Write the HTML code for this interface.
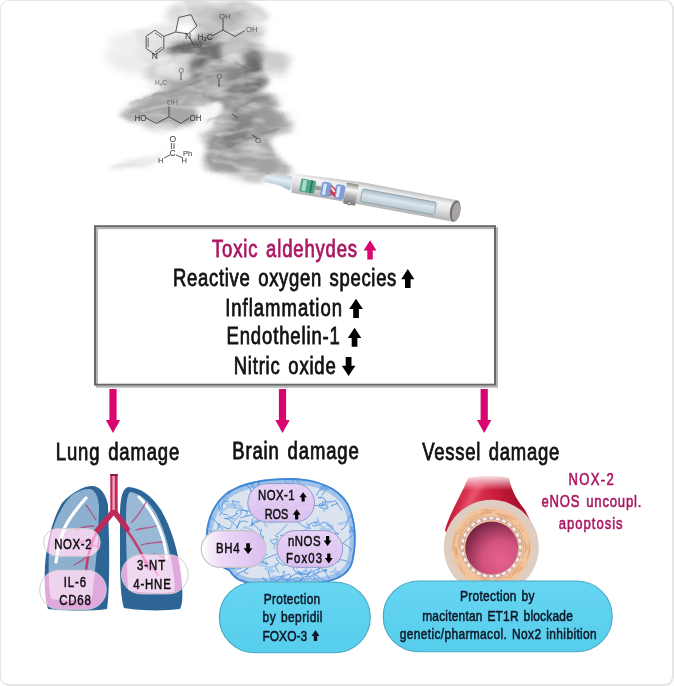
<!DOCTYPE html>
<html><head><meta charset="utf-8"><title>E-cigarette damage</title><style>
html,body{margin:0;padding:0;background:#fff}
body{width:674px;height:686px;overflow:hidden;position:relative}
svg{position:absolute;left:0;top:0;display:block}
text{font-family:"Liberation Sans",sans-serif}
</style></head><body>
<svg width="674" height="686" viewBox="0 0 674 686">
<defs>
<filter id="b3" x="-30%" y="-30%" width="160%" height="160%"><feGaussianBlur stdDeviation="3"/></filter>
<filter id="b1" x="-10%" y="-10%" width="120%" height="120%"><feGaussianBlur stdDeviation="0.8"/></filter>
<filter id="smk" x="0" y="0" width="674" height="686" filterUnits="userSpaceOnUse">
<feTurbulence type="fractalNoise" baseFrequency="0.025 0.05" numOctaves="2" seed="4" result="d"/>
<feDisplacementMap in="SourceGraphic" in2="d" scale="16" xChannelSelector="R" yChannelSelector="G" result="disp"/>
<feTurbulence type="fractalNoise" baseFrequency="0.03 0.075" numOctaves="3" seed="11" result="n"/>
<feColorMatrix in="n" type="matrix" values="0 0 0 0 1  0 0 0 0 1  0 0 0 0 1  1.15 0 0 0 -0.52" result="w"/>
<feComposite in="w" in2="disp" operator="in" result="wm"/>
<feMerge><feMergeNode in="disp"/><feMergeNode in="wm"/></feMerge>
</filter>
<filter id="b2" x="-20%" y="-20%" width="140%" height="140%"><feGaussianBlur stdDeviation="2"/></filter>
<filter id="b4" x="-30%" y="-30%" width="160%" height="160%"><feGaussianBlur stdDeviation="4"/></filter>
<filter id="b7" x="-40%" y="-40%" width="180%" height="180%"><feGaussianBlur stdDeviation="7"/></filter>
<filter id="b12" x="-50%" y="-50%" width="200%" height="200%"><feGaussianBlur stdDeviation="12"/></filter>
<linearGradient id="cyan" x1="0" y1="0" x2="0" y2="1"><stop offset="0" stop-color="#66d5f2"/><stop offset="1" stop-color="#56ceec"/></linearGradient>
<linearGradient id="body" x1="0" y1="0" x2="0" y2="1"><stop offset="0" stop-color="#bdbdbd"/><stop offset="0.25" stop-color="#f4f4f4"/><stop offset="0.55" stop-color="#e2e2e2"/><stop offset="1" stop-color="#b0b0b0"/></linearGradient>
<linearGradient id="ring" x1="0" y1="0" x2="0" y2="1"><stop offset="0" stop-color="#8a8a8a"/><stop offset="0.3" stop-color="#f8f8f8"/><stop offset="0.6" stop-color="#b0b0b0"/><stop offset="1" stop-color="#7a7a7a"/></linearGradient>
<linearGradient id="mouth" x1="0" y1="0" x2="0" y2="1"><stop offset="0" stop-color="#b8cad6"/><stop offset="0.4" stop-color="#e4eef4"/><stop offset="1" stop-color="#a8bccb"/></linearGradient>
<linearGradient id="win" x1="0" y1="0" x2="0" y2="1"><stop offset="0" stop-color="#a8bac6"/><stop offset="0.45" stop-color="#dbe6ee"/><stop offset="1" stop-color="#b4c6d2"/></linearGradient>
<radialGradient id="lumen" cx="0.68" cy="0.72" r="0.8"><stop offset="0" stop-color="#e8628e"/><stop offset="0.45" stop-color="#d2527e"/><stop offset="1" stop-color="#6e2040"/></radialGradient>
<linearGradient id="tube" x1="0" y1="0" x2="1" y2="0"><stop offset="0" stop-color="#c01834"/><stop offset="0.3" stop-color="#e03a56"/><stop offset="0.6" stop-color="#c81c3a"/><stop offset="0.85" stop-color="#a80e2c"/><stop offset="1" stop-color="#b8203c"/></linearGradient>
<linearGradient id="tubefade" x1="0" y1="0" x2="0" y2="1"><stop offset="0" stop-color="#fff" stop-opacity="1"/><stop offset="1" stop-color="#fff" stop-opacity="0"/></linearGradient>
<linearGradient id="pinkL" x1="0" y1="0" x2="1" y2="0"><stop offset="0" stop-color="#fff" stop-opacity="0.85"/><stop offset="0.25" stop-color="#f2d2ee" stop-opacity="0.8"/><stop offset="1" stop-color="#e9a8d8" stop-opacity="0.8"/></linearGradient>
<linearGradient id="lav" x1="0" y1="0" x2="0" y2="1"><stop offset="0" stop-color="#ead2f6"/><stop offset="1" stop-color="#dcbdf0"/></linearGradient>
<linearGradient id="lavL" x1="0" y1="0" x2="1" y2="0"><stop offset="0" stop-color="#fff"/><stop offset="0.3" stop-color="#ecdaf6"/><stop offset="1" stop-color="#dcbdf0"/></linearGradient>
</defs>
<rect x="0" y="0" width="674" height="686" rx="9" fill="#e5e5e5"/>
<rect x="1" y="1" width="671" height="683" rx="8" fill="#fff"/>

<g id="smoke" filter="url(#smk)">
<path d="M106,38 L140,33 L145,70 L130,76 L108,68Z" fill="#ededed" opacity="1" filter="url(#b4)"/>
<path d="M140,28 L172,26 L178,40 L176,60 L170,88 L150,90 L140,75 L138,50Z" fill="#e2e2e2" opacity="1" filter="url(#b3)"/>
<path d="M182,3 L200,1 L240,2 L262,8 L268,16 L258,22 L240,24 L215,24 L195,20 L185,12Z" fill="#c6c6c6" opacity="1" filter="url(#b3)"/>
<path d="M212,12 L244,12 L246,30 L214,30Z" fill="#aaaaaa" opacity="1" filter="url(#b3)"/>
<path d="M165,8 L185,4 L190,24 L168,26Z" fill="#dadada" opacity="1" filter="url(#b3)"/>
<path d="M192,20 L250,20 L264,27 L262,37 L248,41 L215,43 L195,41Z" fill="#c2c2c2" opacity="1" filter="url(#b3)"/>
<path d="M160,48 L196,40 L222,38 L262,44 L268,58 L264,70 L268,82 L262,98 L240,104 L215,102 L198,100 L165,104 L160,88Z" fill="#9a9a9a" opacity="1" filter="url(#b3)"/>
<path d="M150,52 L196,52 L198,72 L185,80 L150,82Z" fill="#d0d0d0" opacity="1" filter="url(#b3)"/>
<path d="M158,60 L184,60 L184,73 L158,75Z" fill="#e6e6e6" opacity="1" filter="url(#b3)"/>
<path d="M168,40 L220,37 L225,46 L218,55 L172,55Z" fill="#6e6e6e" opacity="1" filter="url(#b3)"/>
<path d="M194,50 L221,50 L223,100 L197,102Z" fill="#737373" opacity="1" filter="url(#b3)"/>
<path d="M219,40 L246,40 L251,55 L245,66 L222,66Z" fill="#c6c6c6" opacity="1" filter="url(#b3)"/>
<path d="M243,56 L266,58 L269,80 L262,93 L245,92Z" fill="#6c6c6c" opacity="1" filter="url(#b3)"/>
<path d="M219,66 L245,66 L246,92 L222,100Z" fill="#878787" opacity="1" filter="url(#b3)"/>
<path d="M262,50 L280,52 L292,60 L290,72 L280,76 L265,74Z" fill="#cdcdcd" opacity="1" filter="url(#b3)"/>
<path d="M150,97 L178,86 L200,78 L205,98 L170,104Z" fill="#8c8c8c" opacity="1" filter="url(#b3)"/>
<path d="M122,112 L140,101 L165,89 L190,80 L212,72 L226,70 L226,90 L205,100 L200,122 L183,128 L150,125 L126,120Z" fill="#a6a6a6" opacity="1" filter="url(#b3)"/>
<path d="M215,96 L255,95 L272,98 L281,103 L276,109 L266,112 L284,116 L295,121 L288,130 L272,134 L270,150 L266,165 L265,178 L252,180 L236,176 L220,172 L207,164 L202,150 L203,136 L214,128 L218,112Z" fill="#9a9a9a" opacity="1" filter="url(#b3)"/>
<path d="M216,116 L249,116 L250,149 L218,150Z" fill="#828282" opacity="1" filter="url(#b4)"/>
<path d="M250,130 L266,130 L268,160 L252,160Z" fill="#a4a4a4" opacity="1" filter="url(#b3)"/>
<path d="M240,160 L262,160 L266,178 L246,178Z" fill="#ababab" opacity="1" filter="url(#b3)"/>
<path d="M112,166 L130,160 L150,156 L163,154 L160,160 L140,166 L115,171Z" fill="#e2e2e2" opacity="1" filter="url(#b2)"/>
<path d="M196,102 L218,100 L220,112 L214,128 L206,134 L197,126Z" fill="#f6f6f6" opacity="1" filter="url(#b2)"/>
<path d="M255,148 L272,150 L288,166 L286,176 L266,178 L256,170Z" fill="#a2a2a2" opacity="1" filter="url(#b3)"/>
<path d="M129,104 C150,96 170,90 182,88 C195,84 202,80 208,78 M165,46 C180,44 195,42 208,42 M208,124 C220,116 230,110 237,108 C250,104 262,102 270,101 M224,153 C235,148 244,143 250,140 C262,134 272,128 280,124 M232,60 C240,66 246,74 248,84 M185,100 C195,96 205,92 215,90" stroke="#4a4a4a" stroke-width="2.2" fill="none" opacity="0.35" filter="url(#b1)"/>
<path d="M140,110 C160,104 180,100 200,96 M215,135 C228,130 240,128 255,128 M230,30 C240,26 250,26 262,30 M214,160 C226,162 240,166 252,170" stroke="#ffffff" stroke-width="2.5" fill="none" opacity="0.35" filter="url(#b1)"/>
</g>
<g fill="none" stroke="#2a2a2a" stroke-width="0.95" opacity="0.8" stroke-linejoin="round">
<polygon points="155.0,30.2 163.8,36.3 163.8,48.5 155.0,54.6 146.2,48.5 146.2,36.3"/>
<line x1="148.2" y1="47.2" x2="148.2" y2="37.6" stroke-width="0.8"/>
<line x1="155.0" y1="32.9" x2="161.8" y2="37.6" stroke-width="0.8"/>
<line x1="161.8" y1="47.2" x2="155.0" y2="51.9" stroke-width="0.8"/>
<polygon points="175.7,32 178.6,17.5 191,14.6 196.9,26.2 188.2,33.9"/>
<line x1="163.8" y1="36.3" x2="175.7" y2="32"/>
<line x1="190" y1="38" x2="193" y2="44"/>
<polyline points="212,36 223,30 235,36.5 245,30.5"/><line x1="223" y1="30" x2="223" y2="19"/>
<polyline points="146,118 156.4,123.4 169,116.7 180.9,123.4 189,118.2"/><line x1="169" y1="116.7" x2="169" y2="106.5"/>
<line x1="171.4" y1="143" x2="171.4" y2="149"/><line x1="174" y1="143" x2="174" y2="149"/><line x1="170" y1="155" x2="164" y2="158"/><line x1="176" y1="155" x2="183" y2="158"/>
<line x1="181" y1="73" x2="181" y2="80"/><line x1="219" y1="79" x2="219" y2="87"/>
<line x1="232" y1="114" x2="238" y2="118"/><line x1="252" y1="135" x2="258" y2="139"/>
</g>
<g font-family="Liberation Sans" fill="#2a2a2a" opacity="0.85" font-size="8.5" stroke="#2a2a2a" stroke-width="0.1">
<text x="151.8" y="58.5">N</text><text x="185" y="38.5">N</text><text x="197.5" y="40" textLength="15" lengthAdjust="spacingAndGlyphs">H&#8323;C</text>
<text x="219" y="18.5" font-size="7.5" textLength="11.5" lengthAdjust="spacingAndGlyphs" opacity="0.75">OH</text><text x="246" y="31.5" font-size="7.5" textLength="11.5" lengthAdjust="spacingAndGlyphs" opacity="0.75">OH</text>
<text x="134.5" y="121" textLength="12" lengthAdjust="spacingAndGlyphs">HO</text><text x="189.5" y="121" textLength="12" lengthAdjust="spacingAndGlyphs">OH</text><text x="167" y="105" font-size="7" textLength="11" lengthAdjust="spacingAndGlyphs" opacity="0.6">OH</text>
<text x="169.5" y="142">O</text><text x="169.5" y="156">C</text><text x="158" y="162.5" font-size="7.5">H</text><text x="183" y="156" font-size="7.5">Ph</text><text x="181.5" y="163" font-size="7.5">H</text>
<text x="155" y="85" font-size="6.5" opacity="0.7">H&#8323;C</text><text x="178.5" y="73" font-size="7" opacity="0.7">O</text><text x="216.5" y="78.5" font-size="7" opacity="0.7">O</text>
<text x="193" y="48" font-size="6" opacity="0.6">TM</text><text x="255" y="143" font-size="8" opacity="0.8">O</text>
</g>
<g transform="translate(291.5,183.2) rotate(10.4)">
<path d="M-27,-3.6 C-20,-3.9 -12,-4.4 -7,-5.6 C-4,-6.6 -2,-7.2 0,-7.2 L0,7.2 C-2,7.2 -4,6.6 -7,5.6 C-12,4.4 -20,3.9 -27,3.6 Z" fill="url(#mouth)"/>
<path d="M-1.73,-9.44 L36.91,-12.16 L72.22,-13.66 L166.00,-13.20 L166.00,8.80 L76.30,8.57 L40.77,8.89 L1.73,9.44Z" fill="url(#body)"/>
<rect x="9" y="-6.5" width="15" height="13" rx="1" fill="#4fa48a"/><rect x="11" y="-5.5" width="4" height="11" fill="#a8dccb"/><rect x="19" y="-6.5" width="2" height="13" fill="#2f7a64"/>
<rect x="24" y="-2" width="6" height="4" fill="#9a9a9a"/>
<rect x="30" y="-7.5" width="10" height="15" rx="3" fill="#7f9ed8"/><rect x="32" y="-5.5" width="3" height="11" fill="#dfe9f7"/>
<rect x="44" y="-7.5" width="10" height="15" rx="3" fill="#7f9ed8"/><rect x="46" y="-5.5" width="3" height="11" fill="#dfe9f7"/>
<path d="M39.5,-5 L45,-1 M39.5,-1 L45,5 M39.5,1 L45,5 M39.5,5 L45,1" stroke="#d02848" stroke-width="1.3"/>
<rect x="54.5" y="-10.6" width="12" height="21.2" fill="url(#ring)"/>
<circle cx="60.5" cy="9.3" r="2.2" fill="#777"/><circle cx="60.5" cy="9.3" r="1.2" fill="#ccc"/>
<rect x="71" y="-7.4" width="75" height="13" rx="1.5" fill="url(#win)" stroke="#8e9aa4" stroke-width="0.8"/>
<ellipse cx="166" cy="-2.2" rx="5.2" ry="11" fill="#7a7474"/><ellipse cx="167" cy="-1.7" rx="3.8" ry="9.4" fill="#a8a4a4"/>
</g>
<rect x="97" y="228.2" width="400" height="158.5" fill="none" stroke="#b3b3b3" stroke-width="2"/>
<rect x="95" y="226.2" width="400" height="158.5" fill="none" stroke="#6a6a6a" stroke-width="2"/>
<text transform="translate(211.98,0) scale(0.77,1)" x="0" y="256.9" font-size="24" textLength="188.40" lengthAdjust="spacing" word-spacing="2.4" fill="#aa1862" stroke="#aa1862" stroke-width="0.82" >Toxic aldehydes</text>
<text transform="translate(173.08,0) scale(0.77,1)" x="0" y="285.9" font-size="24" textLength="289.95" lengthAdjust="spacing" word-spacing="2.4" fill="#111" stroke="#111" stroke-width="0.82" >Reactive oxygen species</text>
<text transform="translate(225.19,0) scale(0.77,1)" x="0" y="315.6" font-size="24" textLength="151.70" lengthAdjust="spacing" word-spacing="2.4" fill="#111" stroke="#111" stroke-width="0.82" >Inflammation</text>
<text transform="translate(226.48,0) scale(0.77,1)" x="0" y="344.1" font-size="24" textLength="147.29" lengthAdjust="spacing" word-spacing="2.4" fill="#111" stroke="#111" stroke-width="0.82" >Endothelin-1</text>
<text transform="translate(233.68,0) scale(0.77,1)" x="0" y="373.6" font-size="24" textLength="132.50" lengthAdjust="spacing" word-spacing="2.4" fill="#111" stroke="#111" stroke-width="0.82" >Nitric oxide</text>
<polygon points="370.1,240.2 376.5,250.6 372.8,250.6 372.8,259.5 367.3,259.5 367.3,250.6 363.6,250.6" fill="#d8066e"/>
<polygon points="407.8,269.1 414.4,279.3 410.6,279.3 410.6,288.0 405.0,288.0 405.0,279.3 401.2,279.3" fill="#000"/>
<polygon points="356.0,298.7 362.9,309.1 358.9,309.1 358.9,317.9 353.2,317.9 353.2,309.1 349.2,309.1" fill="#000"/>
<polygon points="354.6,327.8 361.3,338.1 357.4,338.1 357.4,346.8 351.7,346.8 351.7,338.1 347.8,338.1" fill="#000"/>
<polygon points="348.6,376.1 355.4,365.7 351.5,365.7 351.5,356.9 345.7,356.9 345.7,365.7 341.8,365.7" fill="#000"/>
<rect x="109.4" y="389" width="7.2" height="32" fill="#d8066e"/>
<polygon points="105.8,420 120.2,420 113,433" fill="#d8066e"/>
<rect x="278.9" y="389" width="7.2" height="32" fill="#d8066e"/>
<polygon points="275.3,420 289.7,420 282.5,433" fill="#d8066e"/>
<rect x="480.59999999999997" y="389" width="7.2" height="32" fill="#d8066e"/>
<polygon points="477.0,420 491.4,420 484.2,433" fill="#d8066e"/>
<text transform="translate(55.78,0) scale(0.77,1)" x="0" y="460.3" font-size="24" textLength="160.31" lengthAdjust="spacing" word-spacing="2.4" fill="#111" stroke="#111" stroke-width="0.82" >Lung damage</text>
<text transform="translate(232.18,0) scale(0.77,1)" x="0" y="459.5" font-size="24" textLength="164.46" lengthAdjust="spacing" word-spacing="2.4" fill="#111" stroke="#111" stroke-width="0.82" >Brain damage</text>
<text transform="translate(422.21,0) scale(0.77,1)" x="0" y="460" font-size="24" textLength="177.91" lengthAdjust="spacing" word-spacing="2.4" fill="#111" stroke="#111" stroke-width="0.82" >Vessel damage</text>
<text transform="translate(568.42,0) scale(0.77,1)" x="0" y="485.3" font-size="17" textLength="58.77" lengthAdjust="spacing" word-spacing="1.7" fill="#aa1862" stroke="#aa1862" stroke-width="0.61" >NOX-2</text>
<text transform="translate(541.44,0) scale(0.77,1)" x="0" y="507" font-size="17" textLength="129.91" lengthAdjust="spacing" word-spacing="1.7" fill="#aa1862" stroke="#aa1862" stroke-width="0.61" >eNOS uncoupl.</text>
<text transform="translate(558.74,0) scale(0.77,1)" x="0" y="528.6" font-size="17" textLength="83.02" lengthAdjust="spacing" word-spacing="1.7" fill="#aa1862" stroke="#aa1862" stroke-width="0.61" >apoptosis</text>
<g id="lungs">
<path d="M92,486 C100,486 106,494 108,505 L109,540 C109.5,570 109,595 107,609 C95,611 65,611 48,609 C45,600 44,585 45,565 C47,540 53,518 62,503 C72,492 84,486 92,486Z" fill="#2d6596"/>
<path d="M90,489 C96,490 99,499 99,509 L98,540 C96,560 94,580 92,598 C80,601 62,601 51,599 C48,585 48,560 50,540 C54,521 62,505 72,495 C79,490 85,489 90,489Z" fill="#8db0d0"/>
<path d="M86,498 C78,507 70,517 65,527 C61,536 58,548 56,562" stroke="#fff" stroke-width="3.2" fill="none" stroke-linecap="round"/>
<path d="M128,487 C140,487 152,496 161,510 C171,527 178,550 181,575 C183,592 183,603 180,609 C165,611 140,611 124,608 C121,600 120,580 120,560 L120,515 C120,500 122,489 128,487Z" fill="#2d6596"/>
<path d="M130,492 C140,493 150,502 157,515 C165,531 171,552 174,578 C175,586 175,590 174,592 C160,594 140,593 128,590 C127,570 126,545 126,520 C126,505 127,494 130,492Z" fill="#9ab9d6"/>
<path d="M139,497 C147,505 155,517 160,530 C164,540 166,550 167,558" stroke="#fff" stroke-width="3" fill="none" stroke-linecap="round"/>
<g stroke="#b8487a" fill="none" stroke-linecap="round" opacity="0.85" stroke-width="1.3">
<path d="M96,520 C92,514 90,510 86,505 M94,526 C88,526 82,527 76,530 M91,540 C86,540 80,542 74,545 M88,555 C84,560 80,562 74,565 M88,548 C92,545 96,545 100,548"/>
<path d="M132,522 C138,516 142,510 146,502 M136,530 C142,528 150,528 156,526 M141,545 C148,543 154,543 162,542 M146,560 C150,565 154,570 158,575 M150,555 C155,553 160,555 164,558"/>
</g>
<path d="M98,530 C92,540 88,552 86,570 M126,529 C134,540 142,552 148,568" stroke="#c4406e" stroke-width="2.6" fill="none" stroke-linecap="round"/>
<path d="M113.8,511 C108,518 103,524 97,531 M113.8,511 C119,518 123,523 127,529" stroke="#c02a5a" stroke-width="5.5" fill="none" stroke-linecap="round"/>
<rect x="110.3" y="474" width="7.4" height="40" fill="#c02a5a"/><rect x="112.4" y="476" width="2.4" height="34" fill="#f0a2b8"/>
<rect x="110.3" y="474" width="7.4" height="2" fill="#8e1c40"/>
</g>
<rect x="43.6" y="528.6" width="56.6" height="27.600000000000023" rx="13.800000000000011" fill="#d870a8" stroke="none" stroke-width="0" style="mix-blend-mode:screen"/>
<rect x="39.7" y="570.2" width="66.5" height="39.09999999999991" rx="19.549999999999955" fill="#d870a8" stroke="none" stroke-width="0" style="mix-blend-mode:screen"/>
<rect x="121.6" y="554.7" width="66.5" height="39.19999999999993" rx="19.599999999999966" fill="#d870a8" stroke="none" stroke-width="0" style="mix-blend-mode:screen"/>
<rect x="43.6" y="528.6" width="56.6" height="27.600000000000023" rx="13.800000000000011" fill="none" stroke="#cfcfcf" stroke-width="1" />
<rect x="39.7" y="570.2" width="66.5" height="39.09999999999991" rx="19.549999999999955" fill="none" stroke="#cfcfcf" stroke-width="1" />
<rect x="121.6" y="554.7" width="66.5" height="39.19999999999993" rx="19.599999999999966" fill="none" stroke="#cfcfcf" stroke-width="1" />
<text transform="translate(54.16,0) scale(0.77,1)" x="0" y="548.7" font-size="14.8" textLength="48.47" lengthAdjust="spacing" word-spacing="1.5" fill="#111" stroke="#111" stroke-width="0.53" >NOX-2</text>
<text transform="translate(63.65,0) scale(0.77,1)" x="0" y="587.5" font-size="14.8" textLength="29.15" lengthAdjust="spacing" word-spacing="1.5" fill="#111" stroke="#111" stroke-width="0.53" >IL-6</text>
<text transform="translate(59.33,0) scale(0.77,1)" x="0" y="605.1" font-size="14.8" textLength="40.87" lengthAdjust="spacing" word-spacing="1.5" fill="#111" stroke="#111" stroke-width="0.53" >CD68</text>
<text transform="translate(137.07,0) scale(0.77,1)" x="0" y="570.2" font-size="14.8" textLength="36.60" lengthAdjust="spacing" word-spacing="1.5" fill="#111" stroke="#111" stroke-width="0.53" >3-NT</text>
<text transform="translate(133.24,0) scale(0.77,1)" x="0" y="588.7" font-size="14.8" textLength="48.76" lengthAdjust="spacing" word-spacing="1.5" fill="#111" stroke="#111" stroke-width="0.53" >4-HNE</text>
<clipPath id="brc"><path d="M207,550 C203,528 210,506 226,493 C243,481 268,478 292,478 C318,479 338,487 348,503 C356,518 358,540 353,562 C349,576 336,582 315,584 L252,584 C240,583 233,578 229,571 C220,567 210,561 207,550Z"/></clipPath>
<g id="brain">
<path d="M207,550 C203,528 210,506 226,493 C243,481 268,478 292,478 C318,479 338,487 348,503 C356,518 358,540 353,562 C349,576 336,582 315,584 L252,584 C240,583 233,578 229,571 C220,567 210,561 207,550Z" fill="#dae3ee"/>
<g clip-path="url(#brc)" fill="none" stroke-linecap="round">
<path d="M300.3,557.4 Q308.3,568.6 308.6,566.2 Q309.1,568.3 295.4,565.5 M342.8,490.1 Q343.1,488.8 342.0,485.0 Q331.6,488.9 328.3,479.4 M322.2,495.1 Q328.2,485.5 330.5,487.9 Q318.9,487.0 316.5,495.3 M355.3,571.3 Q353.0,578.8 349.4,580.6 Q348.3,592.5 341.1,589.4 M341.7,510.0 Q334.1,499.7 337.9,503.3 Q327.1,507.2 332.3,505.4 M256.7,511.2 Q258.2,510.7 265.6,510.8 Q276.1,498.7 271.3,501.9 M319.7,568.4 Q310.8,572.5 306.2,574.2 Q294.2,576.9 292.5,565.1 M235.1,558.9 Q238.6,561.0 247.1,567.7 Q241.2,574.4 247.8,573.2 M327.0,570.0 Q313.9,571.9 314.0,578.9 Q313.0,589.9 317.1,587.3 M288.4,511.4 Q279.1,502.6 283.3,505.0 Q280.5,502.7 288.6,514.9 M356.0,535.1 Q356.2,537.7 353.3,529.8 Q345.6,535.7 352.1,528.3 M210.0,530.8 Q218.5,534.3 219.5,523.4 Q215.0,525.3 223.1,529.2 M227.8,568.4 Q233.0,573.6 222.1,567.4 Q228.6,570.7 235.4,566.5 M278.3,509.1 Q275.0,513.4 275.6,502.1 Q282.0,500.8 288.5,504.6 M218.6,507.1 Q220.4,515.4 226.5,514.5 Q233.0,520.6 234.2,518.4 M260.6,553.4 Q261.9,556.3 254.5,553.1 Q254.0,558.8 248.7,562.0 M206.8,536.5 Q202.7,543.3 199.8,540.0 Q199.4,545.2 203.9,545.9 M317.9,566.6 Q321.7,573.1 313.7,573.5 Q320.6,578.5 327.0,582.6 M230.4,567.5 Q239.6,570.8 242.7,567.1 Q250.4,565.1 249.1,560.5 M306.8,523.0 Q310.8,529.3 310.3,528.5 Q302.7,527.5 297.1,521.7 M238.5,551.4 Q239.9,542.4 242.2,542.2 Q233.0,533.5 229.7,534.9 M234.6,481.8 Q235.9,482.1 233.6,479.4 Q222.0,481.9 226.3,487.5 M247.6,521.9 Q240.2,517.8 236.8,528.5 Q239.2,521.9 240.0,520.4 M293.9,580.5 Q303.3,582.0 302.8,578.9 Q302.5,576.4 299.1,571.8 M351.5,581.6 Q359.3,572.1 354.5,578.6 Q350.8,573.5 343.5,579.9 M301.3,573.4 Q295.2,569.3 297.8,572.0 Q311.8,577.4 311.1,569.6 M296.2,505.8 Q301.5,502.9 309.6,505.7 Q313.0,505.3 323.2,505.6 M223.6,544.5 Q227.4,547.7 222.1,540.4 Q211.6,547.7 208.4,541.0 M324.6,504.3 Q329.2,497.5 318.1,497.4 Q322.0,498.8 321.2,496.9 M318.8,490.6 Q322.9,486.0 326.0,486.7 Q322.6,484.7 320.4,487.3 M319.0,541.2 Q311.8,545.4 306.0,536.3 Q303.7,541.2 316.9,537.2 M270.4,539.6 Q273.1,547.5 276.3,542.2 Q280.3,536.3 273.1,540.1 M250.4,566.8 Q247.4,569.1 238.2,573.5 Q241.8,570.6 232.2,579.2 M278.2,536.8 Q272.6,536.4 278.1,533.4 Q278.2,534.2 286.9,524.7 M326.1,549.0 Q327.2,559.2 312.9,553.5 Q321.1,544.5 318.5,544.4 M303.8,579.9 Q303.5,582.9 309.7,572.6 Q303.5,568.3 299.9,574.8 M300.2,482.7 Q287.9,474.4 289.3,480.2 Q296.4,476.8 291.4,485.1 M271.0,511.7 Q279.5,509.5 273.9,511.5 Q262.0,515.5 261.4,515.4 M282.4,575.4 Q279.4,577.5 283.9,577.8 Q280.8,574.5 277.0,582.8 M240.9,517.7 Q247.6,517.0 247.5,511.3 Q235.1,507.0 235.9,514.7 M295.9,503.5 Q298.3,508.1 306.4,503.1 Q292.7,499.8 293.3,507.6 M350.7,550.9 Q354.3,549.7 342.9,543.2 Q349.4,537.3 351.9,536.0 M241.0,513.7 Q240.7,506.3 244.1,510.6 Q253.7,511.0 253.4,513.6 M335.3,533.4 Q340.4,532.4 337.9,534.8 Q327.5,522.8 326.6,525.5 M341.1,529.5 Q344.2,530.7 348.3,519.5 Q349.5,512.4 351.7,518.0 M228.7,495.0 Q233.0,488.3 225.2,492.7 Q216.3,487.1 218.3,488.3 M241.0,529.6 Q232.3,540.8 227.9,538.1 Q230.1,546.9 233.1,541.5 M223.0,549.5 Q223.8,545.9 217.2,553.0 Q208.7,541.5 208.8,543.5 M266.4,582.2 Q264.0,576.8 262.6,578.4 Q260.4,576.4 269.1,582.8 M307.8,578.6 Q317.5,570.0 311.9,577.2 Q304.3,572.8 299.6,582.8 M288.9,583.9 Q282.7,575.5 289.4,580.9 Q302.0,573.7 300.6,580.7 M242.2,483.4 Q236.9,477.5 239.4,474.6 Q229.3,477.7 233.9,465.6 M232.4,532.4 Q224.4,529.8 229.7,533.0 Q231.0,535.0 218.7,533.9 M336.1,500.9 Q329.1,502.5 322.6,501.7 Q324.5,509.6 319.1,504.2 M252.1,526.0 Q250.5,520.3 261.2,520.5 Q260.5,520.3 249.7,526.0 M224.9,486.8 Q220.1,483.8 217.7,478.5 Q217.4,466.8 210.6,469.7 M235.6,508.6 Q232.5,501.6 232.0,500.6 Q241.9,503.6 239.1,501.7 M321.2,539.5 Q322.9,549.9 319.6,545.8 Q319.1,552.8 326.0,549.9 M263.5,491.9 Q253.6,491.4 251.4,485.3 Q252.6,481.9 245.3,476.6 M209.2,483.4 Q209.8,489.2 198.8,480.6 Q199.3,475.7 202.0,475.2 M255.5,479.3 Q260.4,476.1 257.9,485.9 Q261.7,481.7 258.8,479.3 M348.6,563.0 Q349.9,560.6 337.9,559.4 Q341.3,565.8 336.1,558.2 M286.5,581.8 Q292.9,576.5 289.2,573.8 Q275.4,579.8 276.6,583.4 M278.7,572.4 Q273.7,564.7 275.7,566.7 Q280.6,561.1 277.5,563.8 M258.8,504.6 Q271.2,509.9 272.3,511.4 Q276.2,507.6 269.6,504.2 M210.8,496.1 Q211.6,493.5 199.5,500.5 Q206.6,504.5 207.9,497.0 M300.3,563.6 Q298.8,560.1 296.9,553.8 Q289.5,545.2 288.0,551.6 M252.7,519.0 Q250.8,528.7 252.1,523.0 Q259.6,530.0 260.9,531.5 M287.1,563.5 Q288.1,564.7 283.3,565.3 Q273.7,558.8 277.2,556.9 M293.8,559.3 Q303.7,553.7 299.8,555.4 Q306.9,553.9 305.9,546.9 M351.4,574.0 Q357.9,579.2 356.7,580.8 Q358.9,576.8 348.5,581.1 M354.1,536.2 Q350.9,526.1 351.1,526.3 Q359.8,532.1 355.4,534.3 M264.2,489.7 Q270.2,488.2 269.4,490.7 Q271.7,484.1 280.3,485.0 M300.2,574.0 Q299.8,570.9 290.9,576.7 Q290.0,583.4 278.6,578.0 M316.4,522.6 Q321.8,519.7 314.3,523.2 Q318.7,519.2 308.2,525.3 M209.7,490.4 Q205.5,486.4 211.4,492.4 Q215.8,497.6 214.1,495.4 M214.4,529.9 Q216.2,540.0 223.8,539.0 Q221.5,546.4 227.8,547.5 M333.6,529.0 Q322.5,519.4 322.5,522.9 Q311.3,528.2 312.7,525.2 M317.6,565.4 Q328.7,574.8 326.1,569.6 Q321.5,567.9 329.6,578.9 M214.9,500.1 Q216.0,503.6 211.3,499.3 Q206.2,496.3 199.7,497.3 M223.0,541.9 Q221.2,551.1 219.5,545.6 Q229.9,544.8 231.9,537.0 M250.3,490.5 Q253.8,495.7 249.7,487.6 Q248.0,488.6 246.4,483.4 M325.7,539.6 Q328.4,538.3 320.0,536.3 Q309.5,538.2 307.4,534.8 M216.2,507.0 Q218.3,507.4 204.9,506.6 Q196.8,508.6 201.7,515.2 M329.0,478.5 Q325.0,473.2 336.5,475.8 Q336.2,467.4 335.3,473.4 M238.4,582.3 Q231.0,578.4 236.8,581.7 Q243.3,576.4 249.6,585.4 M265.1,561.3 Q270.6,564.6 263.3,563.2 Q257.5,562.8 267.1,553.9 M268.2,571.5 Q270.8,583.7 277.3,579.8 Q275.3,588.3 284.5,587.7 M269.6,582.0 Q275.2,575.5 283.4,576.3 Q285.7,568.2 282.6,572.1 M230.9,527.0 Q231.3,531.9 219.0,524.6 Q220.0,527.2 210.5,515.0 M296.6,492.6 Q299.9,489.3 289.3,501.0 Q281.1,504.3 280.4,499.6 M262.1,560.9 Q264.8,564.4 252.3,561.3 Q248.9,555.4 240.8,553.5 M261.4,529.1 Q258.4,534.9 263.7,538.4 Q264.1,533.0 257.1,539.3 M278.6,553.5 Q270.4,556.3 264.8,558.9 Q259.3,561.9 267.9,564.8 M210.9,519.2 Q205.5,513.7 206.5,509.7 Q206.6,514.4 210.9,518.2 M314.1,578.3 Q317.2,577.8 326.7,588.1 Q331.9,587.6 338.8,579.6 M285.9,519.6 Q292.7,522.9 297.8,515.6 Q292.6,515.1 287.6,512.6 M236.7,526.6 Q228.0,516.8 224.4,518.3 Q227.4,520.5 237.5,513.6 M318.4,506.0 Q321.2,509.4 327.6,508.6 Q330.1,505.2 320.5,503.8 M342.3,496.9 Q341.0,493.4 332.1,488.0 Q330.4,483.3 318.4,478.8 M338.3,482.3 Q343.1,480.2 340.8,474.6 Q349.6,465.6 343.9,469.0 M214.8,551.2 Q208.5,549.2 203.4,542.5 Q202.0,547.0 214.4,546.9 M334.1,490.9 Q334.4,480.5 341.2,486.1 Q351.2,485.7 348.4,486.4 M228.8,501.2 Q220.8,499.0 222.2,510.1 Q218.9,507.8 218.0,501.7 M304.5,496.7 Q302.5,495.8 294.4,496.5 Q289.8,496.9 296.5,504.8 M280.5,535.4 Q288.7,534.6 291.8,536.5 Q292.4,533.6 299.7,543.2 M244.7,516.3 Q252.2,516.2 255.6,511.6 Q266.3,505.1 268.3,503.9 M220.8,545.6 Q218.4,554.0 230.4,547.3 Q232.4,544.8 227.1,550.0 M267.5,513.2 Q265.3,507.4 256.2,504.5 Q258.2,495.0 266.5,495.8 M349.3,562.6 Q348.6,561.3 360.4,562.7 Q357.6,554.6 352.8,553.3" stroke="#4f93e0" stroke-width="1" opacity="0.85"/>
<path d="M221.5,532.7 Q228.8,531.7 237.1,543.4 M322.6,490.3 Q331.1,486.0 324.0,480.3 M271.9,507.1 Q271.7,508.1 273.8,518.5 M283.7,576.3 Q288.3,575.1 279.5,579.5 M329.1,534.6 Q329.6,528.7 316.1,523.9 M272.8,576.2 Q270.7,580.1 275.5,576.2 M244.2,528.3 Q243.0,524.8 253.5,530.9 M311.3,556.0 Q298.3,556.7 297.0,567.9 M218.7,525.8 Q215.5,533.2 223.0,534.3 M221.1,540.1 Q209.5,541.9 212.2,536.7 M223.7,559.8 Q223.0,560.7 217.8,562.0 M338.7,576.4 Q340.8,568.5 330.8,572.4 M269.3,522.4 Q280.3,522.0 286.4,513.4 M316.4,478.1 Q330.1,478.4 332.4,473.6 M269.4,567.6 Q276.3,565.8 275.7,563.8 M313.9,543.7 Q319.1,531.7 324.5,535.6 M326.0,560.6 Q332.6,554.7 338.1,549.6 M223.3,499.7 Q227.6,509.2 240.4,508.1 M304.6,519.2 Q303.6,508.1 309.8,512.7 M305.5,540.2 Q308.8,537.2 314.2,540.3 M317.5,517.9 Q318.4,524.0 321.0,524.1 M214.4,505.9 Q213.5,493.9 226.7,497.4 M322.2,489.4 Q326.3,488.3 320.7,487.9 M284.8,480.7 Q292.1,489.2 295.5,487.1 M299.0,554.6 Q297.6,562.2 311.6,557.4 M356.4,499.5 Q342.2,495.5 340.8,495.7 M218.6,501.6 Q206.5,504.4 200.8,499.8 M264.5,495.8 Q275.7,496.0 280.8,505.2 M266.6,526.3 Q264.2,524.9 263.3,514.9 M311.1,570.1 Q320.3,579.9 317.7,576.4 M326.3,522.5 Q335.3,527.8 332.1,526.3 M272.8,498.4 Q272.6,499.7 266.6,492.4 M234.4,535.1 Q234.0,535.2 246.6,531.9 M260.4,493.4 Q251.0,486.3 252.8,481.6 M221.1,478.6 Q227.3,481.4 222.9,489.6 M346.4,486.5 Q333.1,482.3 333.9,474.7 M320.8,529.1 Q333.0,530.3 331.7,527.9 M287.2,496.3 Q291.0,491.2 284.5,494.8 M250.1,565.4 Q237.9,568.5 234.6,566.3 M295.9,488.1 Q297.2,492.7 304.2,485.9 M324.1,511.1 Q327.7,499.9 330.5,502.1 M303.0,576.0 Q305.7,570.0 307.9,565.0 M272.8,494.2 Q261.9,496.4 264.8,493.0 M242.3,509.1 Q241.8,503.4 227.5,504.3 M219.7,515.0 Q225.2,505.4 235.7,505.1 M309.3,527.4 Q299.3,534.7 294.9,536.1 M274.3,571.3 Q262.9,564.2 258.4,564.7 M330.8,531.8 Q333.5,533.0 325.2,531.9 M274.1,548.3 Q275.0,541.3 278.2,546.0 M272.2,572.0 Q270.3,571.9 265.2,568.8 M231.8,525.7 Q229.8,524.3 240.3,514.7 M343.5,485.2 Q332.5,489.2 328.4,488.3 M210.2,526.9 Q207.2,525.0 198.1,522.8 M335.6,568.1 Q332.6,571.8 339.9,576.4 M253.9,544.9 Q244.8,554.0 239.9,554.1 M349.3,578.6 Q355.2,577.0 345.3,587.2 M319.4,555.8 Q313.4,551.7 317.8,550.5 M347.6,521.0 Q342.2,524.3 338.8,523.9 M274.5,508.6 Q268.7,508.4 257.8,516.3 M281.4,540.2 Q285.9,541.9 281.5,549.8" stroke="#8dbbec" stroke-width="2.2" opacity="0.6"/>
<path d="M207,550 C203,528 210,506 226,493 C243,481 268,478 292,478 C318,479 338,487 348,503 C356,518 358,540 353,562 C349,576 336,582 315,584 L252,584 C240,583 233,578 229,571 C220,567 210,561 207,550Z" stroke="#5a9ae2" stroke-width="12" opacity="0.45"/>
<path d="M207,550 C203,528 210,506 226,493 C243,481 268,478 292,478 C318,479 338,487 348,503 C356,518 358,540 353,562 C349,576 336,582 315,584 L252,584 C240,583 233,578 229,571 C220,567 210,561 207,550Z" stroke="#3d85d6" stroke-width="3.5"/>
</g>
</g>
<rect x="247.8" y="483.6" width="66.69999999999999" height="38.39999999999998" rx="19.19999999999999" fill="url(#lav)" stroke="#8e9cc8" stroke-width="1" fill-opacity="0.9"/>
<rect x="201.3" y="530.6" width="64.59999999999997" height="36.69999999999993" rx="18.349999999999966" fill="url(#lavL)" stroke="#c4c4c4" stroke-width="1.2" />
<rect x="277" y="530.6" width="65.69999999999999" height="36.69999999999993" rx="18.349999999999966" fill="url(#lav)" stroke="#8e9cc8" stroke-width="1" fill-opacity="0.9"/>
<text transform="translate(257.96,0) scale(0.77,1)" x="0" y="500.3" font-size="14.8" textLength="47.53" lengthAdjust="spacing" word-spacing="1.5" fill="#111" stroke="#111" stroke-width="0.53" >NOX-1</text>
<polygon points="303.1,492.2 306.8,497.3 304.7,497.3 304.7,501.6 301.6,501.6 301.6,497.3 299.5,497.3" fill="#000"/>
<text x="264.70" y="518.6" font-size="14.8" textLength="23.58" lengthAdjust="spacingAndGlyphs" fill="#111" stroke="#111" stroke-width="0.53" >ROS</text>
<polygon points="296.7,509.2 300.6,514.7 298.3,514.7 298.3,519.4 295.1,519.4 295.1,514.7 292.8,514.7" fill="#000"/>
<text transform="translate(215.96,0) scale(0.77,1)" x="0" y="553.5" font-size="14.8" textLength="30.59" lengthAdjust="spacing" word-spacing="1.5" fill="#111" stroke="#111" stroke-width="0.53" >BH4</text>
<polygon points="248.1,554.0 252.5,548.2 249.9,548.2 249.9,543.3 246.2,543.3 246.2,548.2 243.6,548.2" fill="#000"/>
<text transform="translate(288.03,0) scale(0.77,1)" x="0" y="546.1" font-size="14.8" textLength="42.19" lengthAdjust="spacing" word-spacing="1.5" fill="#111" stroke="#111" stroke-width="0.53" >nNOS</text>
<polygon points="327.6,546.0 331.5,540.6 329.2,540.6 329.2,536.0 326.0,536.0 326.0,540.6 323.7,540.6" fill="#000"/>
<text transform="translate(286.06,0) scale(0.77,1)" x="0" y="563.3" font-size="14.8" textLength="46.68" lengthAdjust="spacing" word-spacing="1.5" fill="#111" stroke="#111" stroke-width="0.53" >Fox03</text>
<polygon points="328.8,563.5 332.7,558.1 330.4,558.1 330.4,553.5 327.2,553.5 327.2,558.1 324.9,558.1" fill="#000"/>
<g id="vessel">
<path d="M468,478 C480,475 498,475 509,478 C511,488 515,498 525,510 L531,522 L450,540 L445,530 C450,512 462,494 468,478Z" fill="url(#tube)"/>
<path d="M474,484 C472,492 466,502 458,515 L470,510 C476,497 481,490 485,484Z" fill="#f06a82" opacity="0.55" filter="url(#b2)"/>
<rect x="455" y="474" width="80" height="16" fill="url(#tubefade)"/>
<circle cx="491.3" cy="547.3" r="47.5" fill="#dfcdc2"/>
<circle cx="491.3" cy="547.3" r="40" fill="#f1c49e"/>
<path d="M457.8,555.2 L456.9,549.2 M512.7,523.5 L518.0,529.5 M517.4,527.9 L521.5,535.3 M467.3,525.7 L472.8,520.9 M481.2,513.8 L491.4,512.4 M509.8,575.3 L504.7,578.1 M453.3,545.8 L455.1,535.8 M496.5,513.2 L506.3,516.3 M518.5,567.5 L511.7,574.3 M486.0,513.0 L491.8,512.6 M487.8,580.5 L481.1,579.1 M503.5,516.3 L512.8,521.9 M514.8,525.1 L519.2,530.9 M459.2,549.0 L459.7,541.5 M518.5,529.1 L522.4,537.0 M517.2,572.0 L507.8,579.0 M500.6,578.0 L495.4,579.1 M460.2,539.4 L461.9,534.3 M453.3,548.1 L454.2,539.2 M462.3,568.9 L459.1,563.7 M462.3,531.4 L467.6,524.2 M522.5,538.9 L523.7,547.3 M465.4,526.9 L470.1,522.1 M529.8,546.1 L529.4,552.8 M480.8,510.6 L488.2,509.2 M466.6,526.5 L471.8,521.6 M474.9,515.5 L485.2,512.0 M520.6,565.1 L513.4,573.4 M461.1,529.7 L466.0,523.3 M526.9,544.2 L527.0,549.7 M501.7,514.8 L509.1,518.1 M499.2,581.3 L491.8,582.2 M521.9,566.4 L518.2,571.3 M498.1,515.9 L507.3,519.4 M503.8,514.3 L512.7,519.3 M491.7,584.1 L483.1,583.2 M495.9,585.3 L487.1,585.3 M465.1,574.2 L459.7,567.7 M474.9,518.5 L484.7,514.8 M489.5,579.6 L478.7,577.1 M509.1,581.0 L496.6,585.1 M466.1,527.4 L469.7,523.6 M500.2,580.7 L490.9,581.8 M524.8,540.1 L525.6,546.2 M460.9,534.8 L463.4,529.9 M457.0,534.7 L459.5,529.3 M456.4,558.3 L454.7,547.4 M463.3,572.6 L459.1,567.1 M483.3,511.2 L495.3,510.5 M458.7,548.4 L458.9,543.2 M458.7,541.3 L461.6,532.7 M523.3,566.0 L519.1,571.9 M524.3,550.0 L522.7,557.8 M459.1,534.7 L462.0,529.1 M453.4,551.6 L453.5,541.8 M521.3,535.7 L523.5,546.6 M518.5,524.5 L523.4,532.1 M454.4,538.5 L456.3,532.7 M469.1,519.5 L475.4,515.5 M485.5,511.1 L491.8,510.6 M480.4,514.1 L488.9,512.4 M470.2,522.8 L477.5,518.0 M464.9,574.3 L460.2,568.6 M507.6,514.4 L515.9,520.0 M514.2,524.6 L519.4,531.5 M463.7,523.5 L469.9,517.8 M521.5,561.3 L516.6,568.8 M504.9,576.7 L498.1,579.0 M456.4,553.9 L455.8,548.4 M496.8,513.6 L506.7,516.8 M529.4,549.4 L527.5,559.4 M529.3,541.6 L529.2,553.7 M518.2,568.5 L513.6,573.4 M497.5,514.6 L503.7,516.5 M516.5,568.3 L508.1,575.4 M525.3,542.2 L525.3,552.4 M456.6,554.5 L455.9,546.6 M469.1,522.2 L474.5,518.2 M458.2,543.6 L460.0,535.9 M521.5,536.2 L522.9,541.5" stroke="#d99a6a" stroke-width="0.9" opacity="0.7"/>
<circle cx="491.3" cy="547.3" r="29" fill="none" stroke="#c8a8a0" stroke-width="3.6"/>
<g fill="#fbeeea"><ellipse cx="520.3" cy="547.3" rx="2.3" ry="1.3" transform="rotate(90 520.3 547.3)"/><ellipse cx="519.6" cy="553.8" rx="2.3" ry="1.3" transform="rotate(103 519.6 553.8)"/><ellipse cx="517.4" cy="559.9" rx="2.3" ry="1.3" transform="rotate(116 517.4 559.9)"/><ellipse cx="514.0" cy="565.4" rx="2.3" ry="1.3" transform="rotate(129 514.0 565.4)"/><ellipse cx="509.4" cy="570.0" rx="2.3" ry="1.3" transform="rotate(141 509.4 570.0)"/><ellipse cx="503.9" cy="573.4" rx="2.3" ry="1.3" transform="rotate(154 503.9 573.4)"/><ellipse cx="497.8" cy="575.6" rx="2.3" ry="1.3" transform="rotate(167 497.8 575.6)"/><ellipse cx="491.3" cy="576.3" rx="2.3" ry="1.3" transform="rotate(180 491.3 576.3)"/><ellipse cx="484.8" cy="575.6" rx="2.3" ry="1.3" transform="rotate(193 484.8 575.6)"/><ellipse cx="478.7" cy="573.4" rx="2.3" ry="1.3" transform="rotate(206 478.7 573.4)"/><ellipse cx="473.2" cy="570.0" rx="2.3" ry="1.3" transform="rotate(219 473.2 570.0)"/><ellipse cx="468.6" cy="565.4" rx="2.3" ry="1.3" transform="rotate(231 468.6 565.4)"/><ellipse cx="465.2" cy="559.9" rx="2.3" ry="1.3" transform="rotate(244 465.2 559.9)"/><ellipse cx="463.0" cy="553.8" rx="2.3" ry="1.3" transform="rotate(257 463.0 553.8)"/><ellipse cx="462.3" cy="547.3" rx="2.3" ry="1.3" transform="rotate(270 462.3 547.3)"/><ellipse cx="463.0" cy="540.8" rx="2.3" ry="1.3" transform="rotate(283 463.0 540.8)"/><ellipse cx="465.2" cy="534.7" rx="2.3" ry="1.3" transform="rotate(296 465.2 534.7)"/><ellipse cx="468.6" cy="529.2" rx="2.3" ry="1.3" transform="rotate(309 468.6 529.2)"/><ellipse cx="473.2" cy="524.6" rx="2.3" ry="1.3" transform="rotate(321 473.2 524.6)"/><ellipse cx="478.7" cy="521.2" rx="2.3" ry="1.3" transform="rotate(334 478.7 521.2)"/><ellipse cx="484.8" cy="519.0" rx="2.3" ry="1.3" transform="rotate(347 484.8 519.0)"/><ellipse cx="491.3" cy="518.3" rx="2.3" ry="1.3" transform="rotate(360 491.3 518.3)"/><ellipse cx="497.8" cy="519.0" rx="2.3" ry="1.3" transform="rotate(373 497.8 519.0)"/><ellipse cx="503.9" cy="521.2" rx="2.3" ry="1.3" transform="rotate(386 503.9 521.2)"/><ellipse cx="509.4" cy="524.6" rx="2.3" ry="1.3" transform="rotate(399 509.4 524.6)"/><ellipse cx="514.0" cy="529.2" rx="2.3" ry="1.3" transform="rotate(411 514.0 529.2)"/><ellipse cx="517.4" cy="534.7" rx="2.3" ry="1.3" transform="rotate(424 517.4 534.7)"/><ellipse cx="519.6" cy="540.8" rx="2.3" ry="1.3" transform="rotate(437 519.6 540.8)"/></g>
<circle cx="491.7" cy="548" r="26.5" fill="url(#lumen)"/>
</g>
<rect x="219.3" y="582" width="151.0" height="70.79999999999995" rx="35.39999999999998" fill="url(#cyan)" stroke="#4aa8c2" stroke-width="1.1" />
<rect x="383.2" y="581" width="229.00000000000006" height="70.79999999999995" rx="35.39999999999998" fill="url(#cyan)" stroke="#4aa8c2" stroke-width="1.1" />
<text transform="translate(263.72,0) scale(0.77,1)" x="0" y="604.2" font-size="15.5" textLength="73.42" lengthAdjust="spacing" word-spacing="1.6" fill="#0e1826" stroke="#0e1826" stroke-width="0.56" >Protection</text>
<text transform="translate(262.62,0) scale(0.77,1)" x="0" y="622" font-size="15.5" textLength="77.65" lengthAdjust="spacing" word-spacing="1.6" fill="#0e1826" stroke="#0e1826" stroke-width="0.56" >by bepridil</text>
<text transform="translate(262.42,0) scale(0.77,1)" x="0" y="640.8" font-size="15.5" textLength="58.17" lengthAdjust="spacing" word-spacing="1.6" fill="#0e1826" stroke="#0e1826" stroke-width="0.56" >FOXO-3</text>
<polygon points="315.5,630.0 319.5,635.9 317.2,635.9 317.2,641.0 313.8,641.0 313.8,635.9 311.5,635.9" fill="#0e1826"/>
<text transform="translate(460.02,0) scale(0.77,1)" x="0" y="601.5" font-size="15.5" textLength="96.76" lengthAdjust="spacing" word-spacing="1.6" fill="#0e1826" stroke="#0e1826" stroke-width="0.56" >Protection by</text>
<text transform="translate(422.19,0) scale(0.77,1)" x="0" y="620.8" font-size="15.5" textLength="195.63" lengthAdjust="spacing" word-spacing="1.6" fill="#0e1826" stroke="#0e1826" stroke-width="0.56" >macitentan ET1R blockade</text>
<text transform="translate(399.69,0) scale(0.77,1)" x="0" y="638.6" font-size="15.5" textLength="255.95" lengthAdjust="spacing" word-spacing="1.6" fill="#0e1826" stroke="#0e1826" stroke-width="0.56" >genetic/pharmacol. Nox2 inhibition</text>
</svg>
</body></html>
